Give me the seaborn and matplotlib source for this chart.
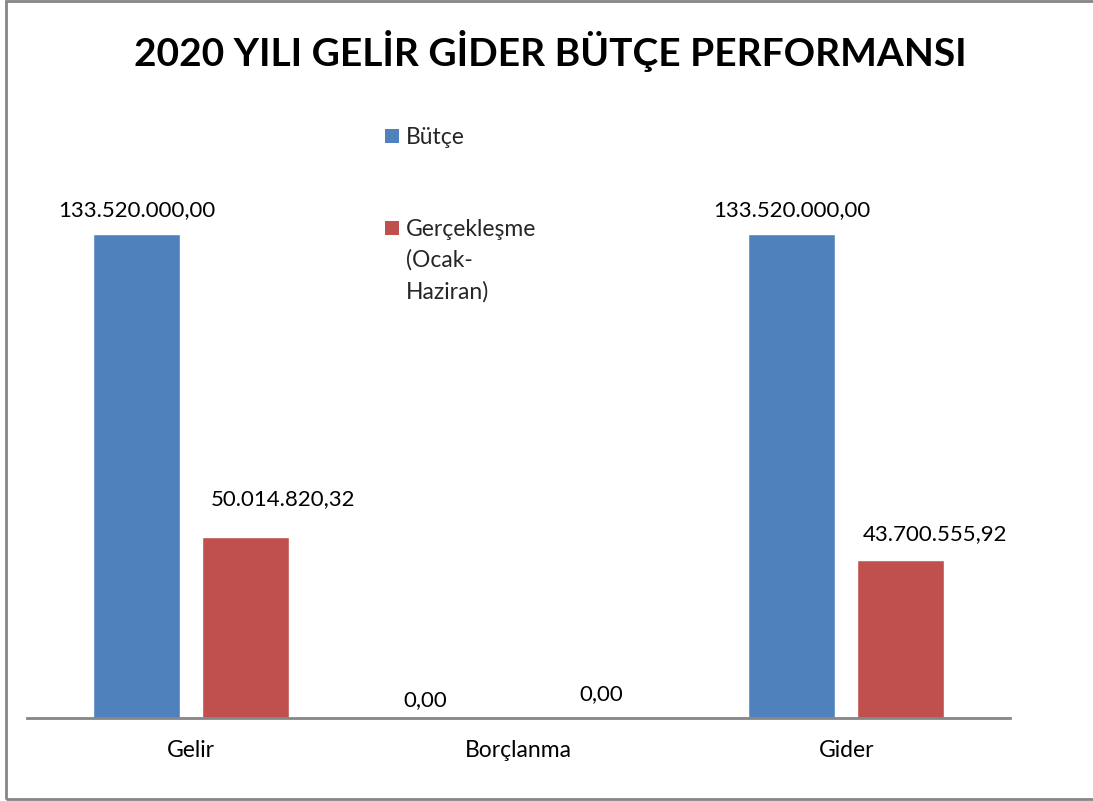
import matplotlib
matplotlib.use("Agg")
import matplotlib.pyplot as plt
from matplotlib.patches import Rectangle, Patch
import seaborn as sns
import pandas as pd

categories = ["Gelir", "Borçlanma", "Gider"]
series = ["Bütçe", "Gerçekleşme (Ocak-Haziran)"]
butce = [133520000.00, 0.00, 133520000.00]
gerceklesme = [50014820.32, 0.00, 43700555.92]
title = "2020 YILI GELİR GİDER BÜTÇE PERFORMANSI"

colors = ["#4F81BD", "#C0504D"]

def fmt_tr(v):
    s = f"{v:,.2f}"
    return s.replace(",", "X").replace(".", ",").replace("X", ".")

df = pd.DataFrame({
    "Kategori": categories * 2,
    "Seri": [series[0]] * 3 + [series[1]] * 3,
    "Değer": butce + gerceklesme,
})

sns.set_style("white")
plt.rcParams["font.family"] = ["Lato", "DejaVu Sans"]

fig = plt.figure(figsize=(10.93, 8.01), dpi=100)
W, H = 1093, 801
ax = fig.add_axes([27 / W, (H - 718) / H, (1010 - 27) / W, (718 - 138) / H])

sns.barplot(data=df, x="Kategori", y="Değer", hue="Seri", order=categories,
            hue_order=series, palette=colors, width=0.665, gap=0.2,
            saturation=1, ax=ax, legend=False)

ax.set_ylim(0, 160000000)
ax.set_xlim(-0.5, 2.5)
ax.set_yticks([])
ax.set_xlabel("")
ax.set_ylabel("")
for s in ["top", "left", "right"]:
    ax.spines[s].set_visible(False)
ax.spines["bottom"].set_color("#868686")
ax.spines["bottom"].set_linewidth(2)
ax.tick_params(axis="x", length=0, pad=16, labelsize=16.5)
for t in ax.get_xticklabels():
    t.set_color("#000000")

# value labels (offsets in points: dx, dy)
offsets = [
    [(0, 10), (-28, 6), (0, 10)],
    [(27, 20), (20, 10), (25, 11)],
]
values = [butce, gerceklesme]
for si, cont in enumerate(ax.containers):
    for ci, bar in enumerate(cont):
        dx, dy = offsets[si][ci]
        ax.annotate(fmt_tr(values[si][ci]),
                    xy=(bar.get_x() + bar.get_width() / 2, bar.get_height()),
                    xytext=(dx, dy), textcoords="offset points",
                    ha="center", va="bottom", fontsize=16, color="black")

# legend: wrapped labels, each series handle on its first line
wrapped = [["Bütçe", "", ""], ["Gerçekleşme", "(Ocak-", "Haziran)"]]
leg_handles, leg_labels = [], []
for c, lines in zip(colors, wrapped):
    for i, line in enumerate(lines):
        leg_handles.append(Patch(facecolor=c if i == 0 else "none",
                                 edgecolor="none"))
        leg_labels.append(line)
while leg_labels and leg_labels[-1] == "":
    leg_labels.pop(); leg_handles.pop()

leg = fig.legend(leg_handles, leg_labels, loc="upper left",
                 bbox_to_anchor=(385 / W, 1 - 127 / H), frameon=False,
                 fontsize=16.5, handlelength=0.6, handleheight=0.6,
                 handletextpad=0.3, labelspacing=0.42, borderaxespad=0,
                 borderpad=0)

fig.text(550 / W, 1 - 51 / H, title, ha="center", va="center",
         fontsize=28, fontweight="bold", color="black")

fig.patches.append(Rectangle((6 / W, 1 - 799 / H), 1.2, (799 - 1) / H,
                             transform=fig.transFigure, fill=False,
                             edgecolor="#868686", linewidth=2))

fig.savefig("out.png", dpi=100, facecolor="white")
